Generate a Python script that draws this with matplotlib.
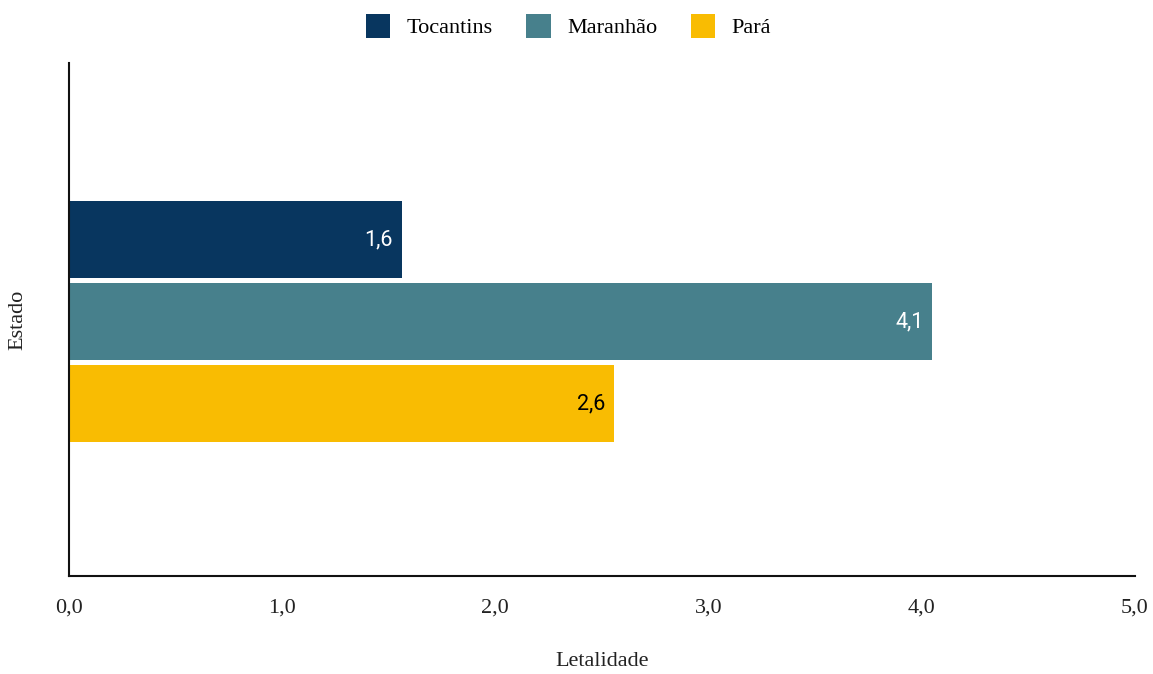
import matplotlib
matplotlib.use("Agg")
from matplotlib import pyplot as plt
from matplotlib.patches import Patch

estados = ["Tocantins", "Maranhão", "Pará"]
letalidade = [1.56, 4.05, 2.555]
rotulos = ["1,6", "4,1", "2,6"]
cores = ["#08365f", "#47808c", "#f9bc02"]
cores_texto = ["white", "white", "black"]
xticks = [0, 1, 2, 3, 4, 5]
xtick_labels = ["0,0", "1,0", "2,0", "3,0", "4,0", "5,0"]

plt.rcParams["font.family"] = ["Liberation Serif", "DejaVu Serif"]

fig = plt.figure(figsize=(11.53, 6.74), dpi=100)
ax = fig.add_axes([0.0598, 0.1454, 0.9246, 0.7611])

step = 0.16
altura = 0.15
posicoes = [step, 0, -step]
for i in range(len(estados)):
    y = posicoes[i] - 0.004
    ax.barh(y, letalidade[i], height=altura, color=cores[i], edgecolor="none")
    ax.text(letalidade[i] - 0.04, y, rotulos[i], ha="right", va="center",
            color=cores_texto[i], fontsize=15.5, family="Roboto")

ax.set_xlim(0, 5)
ax.set_ylim(-0.5, 0.5)
ax.set_xticks(xticks)
ax.set_xticklabels(xtick_labels, fontsize=16)
ax.set_yticks([])
ax.tick_params(axis="x", length=0, pad=16, colors="#222222")
for s in ["top", "right"]:
    ax.spines[s].set_visible(False)
for s in ["left", "bottom"]:
    ax.spines[s].set_linewidth(1.5)
    ax.spines[s].set_color("#111111")

ax.set_xlabel("Letalidade", fontsize=16, labelpad=25, color="#222222")
ax.set_ylabel("Estado", fontsize=16, labelpad=30, color="#222222")

handles = [Patch(facecolor=c, edgecolor="none") for c in cores]
fig.legend(handles, estados, loc="center", bbox_to_anchor=(0.493, 0.961), ncol=3,
           frameon=False, fontsize=16, handlelength=1.1, handleheight=1.25,
           handletextpad=0.75, columnspacing=1.5)

fig.savefig("out.png", dpi=100)
